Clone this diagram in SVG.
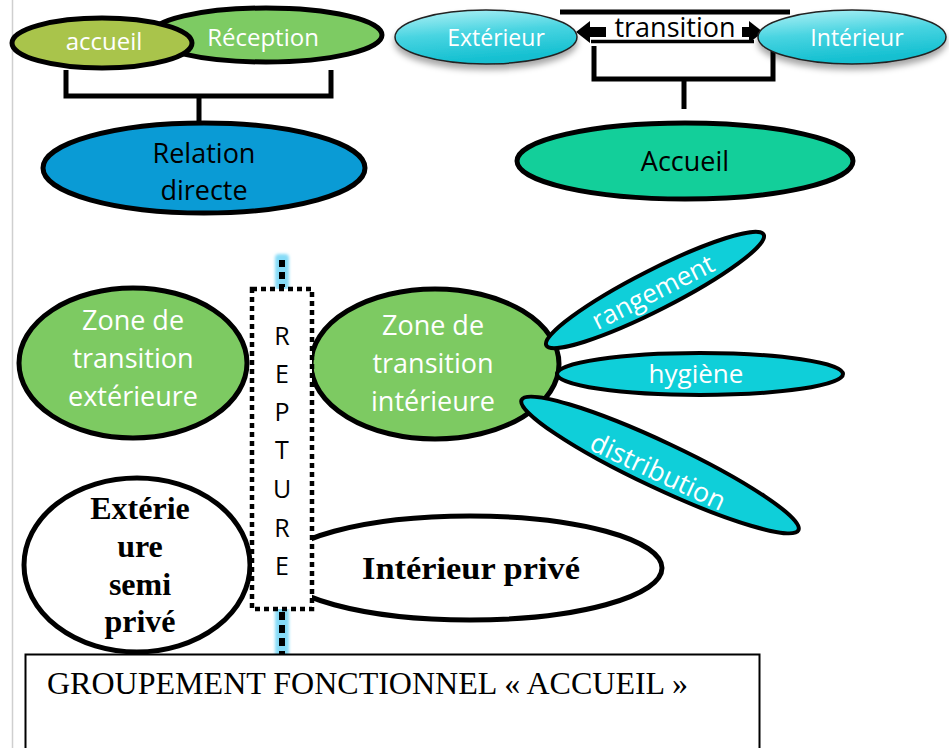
<svg xmlns="http://www.w3.org/2000/svg" width="949" height="748" viewBox="0 0 949 748">
<defs>
<style>
.sans{font-family:"Open Sans","DejaVu Sans",sans-serif;text-anchor:middle}
.serif{font-family:"Liberation Serif","DejaVu Serif",serif;text-anchor:middle}
.w{fill:#ffffff}
.k{fill:#000000}
.bold{font-weight:bold}
.thick{stroke:#000;stroke-width:5;fill:none}
.node{stroke:#000;stroke-width:5}
.petal{fill:#0fcfd9;stroke:#000;stroke-width:4}
.glow{fill:#86dbf7}
</style>
<linearGradient id="cyanGrad" x1="0" y1="0" x2="0.25" y2="1">
<stop offset="0" stop-color="#b4f2f6"/>
<stop offset="0.5" stop-color="#48d4e1"/>
<stop offset="1" stop-color="#12bfd0"/>
</linearGradient>
<filter id="shadow" x="-20%" y="-40%" width="140%" height="200%">
<feDropShadow dx="0" dy="5" stdDeviation="3" flood-color="#000" flood-opacity="0.35"/>
</filter>
<filter id="glow" filterUnits="userSpaceOnUse" x="250" y="240" width="64" height="430">
<feGaussianBlur stdDeviation="1.5"/>
</filter>
<marker id="head" markerUnits="userSpaceOnUse" markerWidth="16" markerHeight="24" refX="0" refY="11" orient="auto-start-reverse">
<path d="M0,0 L14,11 L0,22 z" fill="#000"/>
</marker>
</defs>
<rect x="0" y="0" width="949" height="748" fill="#ffffff"/>
<line x1="12.5" y1="0" x2="12.5" y2="748" stroke="#cfcfcf" stroke-width="1.5"/>

<!-- connectors -->
<g id="connectors">
<path class="thick" d="M66,70 V96 H331 V70 M199,96 V124"/>
<line x1="560" y1="12" x2="790" y2="12" stroke="#000" stroke-width="5"/>
<line x1="590" y1="32" x2="749" y2="32" stroke="#000" stroke-width="10" marker-start="url(#head)" marker-end="url(#head)"/>
<rect x="606" y="16" width="136" height="23" fill="#ffffff"/>
<line x1="591" y1="41.5" x2="754" y2="41.5" stroke="#000" stroke-width="3.5"/>
<path class="thick" d="M594,46 V79 H773 V46 M684,79 V109"/>
<rect x="275" y="254" width="14" height="36" rx="4" class="glow" filter="url(#glow)"/>
<rect x="275" y="607" width="14" height="50" rx="4" class="glow" filter="url(#glow)"/>
<line x1="282" y1="260" x2="282" y2="287" stroke="#000" stroke-width="6" stroke-dasharray="7,5"/>
<line x1="282" y1="612" x2="282" y2="655" stroke="#000" stroke-width="6" stroke-dasharray="8,5"/>
</g>

<g id="reception">
<ellipse cx="266" cy="35" rx="116" ry="27" fill="#7dcb63" class="node"/>
<text x="263" y="46" class="sans w" font-size="24">Réception</text>
</g>
<g id="accueil-small">
<ellipse cx="102" cy="43" rx="90" ry="25" fill="#a9c44b" class="node"/>
<text x="104" y="50" class="sans w" font-size="24">accueil</text>
</g>
<g id="relation-directe">
<ellipse cx="204" cy="168" rx="161" ry="45" fill="#0a9bd5" class="node"/>
<text x="204" y="163" class="sans k" font-size="27">Relation</text>
<text x="204" y="200" class="sans k" font-size="27">directe</text>
</g>

<g id="transition-label">
<text x="675" y="37" class="sans k" font-size="27">transition</text>
</g>
<g id="exterieur">
<ellipse cx="486" cy="37" rx="91" ry="27" fill="url(#cyanGrad)" stroke="#222" stroke-width="1.5" filter="url(#shadow)"/>
<text x="496" y="46" class="sans w" font-size="23">Extérieur</text>
</g>
<g id="interieur">
<ellipse cx="852" cy="37" rx="94" ry="27" fill="url(#cyanGrad)" stroke="#222" stroke-width="1.5" filter="url(#shadow)"/>
<text x="857" y="46" class="sans w" font-size="23">Intérieur</text>
</g>
<g id="accueil">
<ellipse cx="685" cy="161" rx="168" ry="38" fill="#13cf9a" class="node"/>
<text x="685" y="171" class="sans k" font-size="27">Accueil</text>
</g>

<g id="zone-ext">
<ellipse cx="133" cy="363" rx="114" ry="75" fill="#7dca62" class="node"/>
<text x="133" y="330" class="sans w" font-size="27">Zone de</text>
<text x="133" y="368" class="sans w" font-size="27">transition</text>
<text x="133" y="406" class="sans w" font-size="27">extérieure</text>
</g>
<g id="zone-int">
<ellipse cx="435" cy="364" rx="124" ry="75" fill="#7dca62" class="node"/>
<text x="433" y="335" class="sans w" font-size="27">Zone de</text>
<text x="433" y="373" class="sans w" font-size="27">transition</text>
<text x="433" y="411" class="sans w" font-size="27">intérieure</text>
</g>
<g id="rangement">
<ellipse cx="655" cy="290" rx="122" ry="20" class="petal" transform="rotate(-27 655 290)"/>
<text x="653" y="301" class="sans w" font-size="26" transform="rotate(-27 653 292)">rangement</text>
</g>
<g id="hygiene">
<ellipse cx="700" cy="374" rx="143" ry="21" class="petal"/>
<text x="696" y="383" class="sans w" font-size="26">hygiène</text>
</g>
<g id="distribution">
<ellipse cx="660" cy="465" rx="153" ry="23" class="petal" transform="rotate(25.2 660 465)"/>
<text x="658" y="481" class="sans w" font-size="27" transform="rotate(25.2 658 472)">distribution</text>
</g>

<g id="exterieur-semi-prive">
<ellipse cx="137" cy="565" rx="113" ry="87" fill="#ffffff" class="node"/>
<text x="140" y="519" class="serif k bold" font-size="32">Extérie</text>
<text x="140" y="557" class="serif k bold" font-size="32">ure</text>
<text x="140" y="595" class="serif k bold" font-size="32">semi</text>
<text x="140" y="632" class="serif k bold" font-size="32">privé</text>
</g>
<g id="interieur-prive">
<ellipse cx="470" cy="568" rx="192" ry="52" fill="#ffffff" class="node"/>
<text x="471" y="579" class="serif k bold" font-size="32" textLength="218" lengthAdjust="spacingAndGlyphs">Intérieur privé</text>
</g>

<g id="repture">
<rect x="252" y="289" width="60" height="320" fill="#ffffff" stroke="#000" stroke-width="4.5" stroke-dasharray="5,4"/>
<text x="282" y="345" class="sans k" font-size="25">R</text>
<text x="282" y="383" class="sans k" font-size="25">E</text>
<text x="282" y="421" class="sans k" font-size="25">P</text>
<text x="282" y="459" class="sans k" font-size="25">T</text>
<text x="282" y="498" class="sans k" font-size="25">U</text>
<text x="282" y="537" class="sans k" font-size="25">R</text>
<text x="282" y="575" class="sans k" font-size="25">E</text>
</g>

<g id="title-box">
<rect x="25.5" y="654.5" width="734" height="110" fill="#ffffff" stroke="#000" stroke-width="2"/>
<text x="47" y="694" font-family="Liberation Serif, DejaVu Serif, serif" font-size="31" fill="#000" textLength="641" lengthAdjust="spacingAndGlyphs">GROUPEMENT FONCTIONNEL « ACCUEIL »</text>
</g>
</svg>
